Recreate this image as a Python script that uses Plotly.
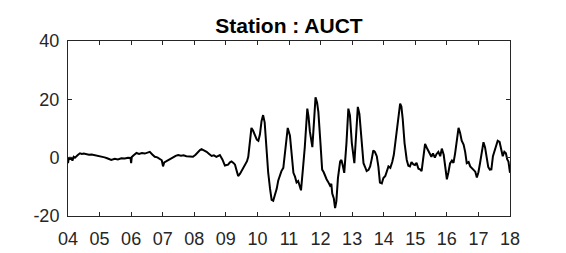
import plotly.graph_objects as go

years = [2004.00, 2004.03, 2004.06, 2004.10, 2004.14, 2004.18, 2004.22, 2004.27, 2004.32, 2004.38, 2004.44, 2004.50,
         2004.58, 2004.66, 2004.75, 2004.85, 2004.95, 2005.05, 2005.16, 2005.26, 2005.37, 2005.48, 2005.58, 2005.69,
         2005.80, 2005.90, 2005.98, 2006.00, 2006.02, 2006.08, 2006.17, 2006.25, 2006.34, 2006.43, 2006.51, 2006.59,
         2006.67, 2006.75, 2006.83, 2006.90, 2006.97, 2007.01, 2007.05, 2007.12, 2007.20, 2007.27, 2007.33, 2007.41,
         2007.49, 2007.58, 2007.66, 2007.75, 2007.85, 2007.96, 2008.04, 2008.12, 2008.18, 2008.23, 2008.30, 2008.39,
         2008.48, 2008.55, 2008.62, 2008.70, 2008.81, 2008.89, 2008.97, 2009.07, 2009.13, 2009.18, 2009.24, 2009.29,
         2009.34, 2009.39, 2009.45, 2009.50, 2009.56, 2009.62, 2009.67, 2009.71, 2009.76, 2009.81, 2009.86, 2009.92,
         2009.98, 2010.03, 2010.08, 2010.13, 2010.18, 2010.23, 2010.29, 2010.34, 2010.40, 2010.45, 2010.50, 2010.55,
         2010.61, 2010.66, 2010.71, 2010.76, 2010.82, 2010.89, 2010.96, 2011.03, 2011.08, 2011.14, 2011.19, 2011.24,
         2011.29, 2011.34, 2011.38, 2011.44, 2011.50, 2011.58, 2011.62, 2011.66, 2011.70, 2011.74, 2011.79, 2011.84,
         2011.89, 2011.93, 2011.99, 2012.05, 2012.10, 2012.15, 2012.19, 2012.24, 2012.30, 2012.34, 2012.37, 2012.42,
         2012.46, 2012.50, 2012.55, 2012.62, 2012.66, 2012.70, 2012.75, 2012.82, 2012.88, 2012.93, 2012.99, 2013.07,
         2013.12, 2013.18, 2013.23, 2013.28, 2013.32, 2013.36, 2013.41, 2013.46, 2013.52, 2013.57, 2013.62, 2013.67,
         2013.72, 2013.78, 2013.83, 2013.88, 2013.94, 2013.99, 2014.05, 2014.10, 2014.15, 2014.21, 2014.27, 2014.32,
         2014.36, 2014.42, 2014.47, 2014.52, 2014.56, 2014.60, 2014.66, 2014.73, 2014.78, 2014.83, 2014.88, 2014.94,
         2014.99, 2015.04, 2015.10, 2015.15, 2015.20, 2015.25, 2015.31, 2015.36, 2015.41, 2015.46, 2015.51, 2015.56,
         2015.62, 2015.67, 2015.73, 2015.79, 2015.84, 2015.90, 2015.95, 2016.00, 2016.05, 2016.10, 2016.16, 2016.21,
         2016.26, 2016.32, 2016.37, 2016.42, 2016.47, 2016.53, 2016.58, 2016.63, 2016.69, 2016.74, 2016.79, 2016.84,
         2016.90, 2016.95, 2017.00, 2017.05, 2017.10, 2017.16, 2017.21, 2017.26, 2017.31, 2017.36, 2017.41, 2017.46,
         2017.51, 2017.56, 2017.61, 2017.67, 2017.72, 2017.77, 2017.82, 2017.87, 2017.91, 2017.95, 2018.00]

values = [-1.9, 0.2, -0.6, 0.1, -1.0, 0.3, 0.0, 0.6, 1.0, 1.5, 1.3, 1.4,
          1.2, 1.0, 1.1, 0.9, 0.5, 0.3, 0.1, -0.3, -0.8, -0.4, -0.6, -0.2,
          -0.3, 0.0, -0.1, -1.9, 0.2, 0.8, 1.6, 1.3, 1.6, 1.4, 1.7, 2.0,
          1.1, 0.3, 0.1, -0.5, -0.9, -3.0, -1.6, -1.2, -0.6, -0.2, 0.1, 0.6,
          0.9, 0.7, 0.8, 0.5, 0.4, 0.3, 1.0, 2.0, 2.6, 2.9, 2.5, 2.0,
          1.2, 0.6, 0.8, 0.3, 0.9, -0.6, -2.7, -2.4, -1.6, -1.3, -1.8, -2.4,
          -4.4, -6.3, -5.5, -4.6, -3.6, -2.4, -1.2, 0.3, 5.0, 10.2, 9.3, 7.5,
          6.2, 5.8, 8.0, 12.5, 14.6, 12.0, 2.5, -5.0, -10.7, -14.5, -14.8, -13.0,
          -10.7, -7.8, -5.7, -4.6, -3.5, 2.5, 10.2, 7.5, 1.0, -5.2, -6.5, -8.5,
          -8.0, -10.2, -11.2, -4.0, 3.6, 16.8, 14.0, 9.1, 5.5, 3.6, 12.0, 20.7,
          18.8, 15.7, 6.0, -4.1, -5.0, -6.6, -7.4, -8.3, -9.6, -9.0, -12.3, -14.0,
          -17.3, -15.0, -7.0, -1.3, -0.8, -2.5, -5.2, 5.0, 16.8, 14.5, 5.0, -1.9,
          6.0, 17.4, 15.0, 9.1, 3.5, -1.9, -3.2, -4.6, -4.2, -3.0, -0.5, 2.5,
          2.0, 0.5, -3.0, -8.5, -8.8, -7.0, -6.3, -4.5, -3.0, -3.5, -1.5, 1.0,
          4.2, 9.0, 14.5, 18.5, 17.5, 13.5, 5.0, -0.8, -2.8, -3.0, -1.5, -2.3,
          -2.5, -1.8, -3.8, -4.0, -4.6, -0.5, 4.7, 3.5, 2.5, 1.8, 0.3, 1.5,
          0.0, 1.2, 2.0, 0.5, 3.1, 1.0, -3.5, -7.4, -5.0, -2.0, -1.0, -1.8,
          1.4, 5.5, 10.2, 8.5, 5.8, 4.5, 2.0, -1.9, -1.5, -3.0, -3.5, -4.1,
          -4.8, -6.8, -5.0, -1.9, 1.5, 5.3, 3.5, -0.5, -3.2, -4.1, -4.0, 0.5,
          2.5, 3.6, 5.8, 5.4, 3.0, 0.5, 2.0, 1.5, -0.5, -1.3, -5.2]

year_ticks = [2004, 2005, 2006, 2007, 2008, 2009, 2010, 2011, 2012, 2013, 2014, 2015, 2016, 2017, 2018]
year_labels = ['04', '05', '06', '07', '08', '09', '10', '11', '12', '13', '14', '15', '16', '17', '18']
y_ticks = [-20, 0, 20, 40]
y_labels = ['-20', '0', '20', '40']

fig = go.Figure()
fig.add_trace(go.Scatter(x=years, y=values, mode='lines',
                         line=dict(color='#000000', width=2), showlegend=False))

axis_common = dict(showline=True, linecolor='#262626', linewidth=1, mirror='ticks',
                   ticks='inside', ticklen=4, tickcolor='#262626', showgrid=False, zeroline=False,
                   tickfont=dict(family='Liberation Sans, Arial, sans-serif', size=18, color='#262626'))

fig.update_xaxes(range=[2004, 2018], tickvals=year_ticks, ticktext=year_labels,
                 ticklabelstandoff=6, **axis_common)
fig.update_yaxes(range=[-20, 40], tickvals=y_ticks, ticktext=y_labels, ticklabelstandoff=4, **axis_common)

fig.update_layout(
    width=566, height=253,
    margin=dict(l=60, r=64, t=33, b=39),
    paper_bgcolor='white', plot_bgcolor='white',
    title=dict(text='<b>Station : AUCT</b>', x=0.4965, xanchor='center', y=0.93, yanchor='middle',
               font=dict(family='Liberation Sans, Arial, sans-serif', size=21, color='#000000')),
)

fig.write_html('out.html')
